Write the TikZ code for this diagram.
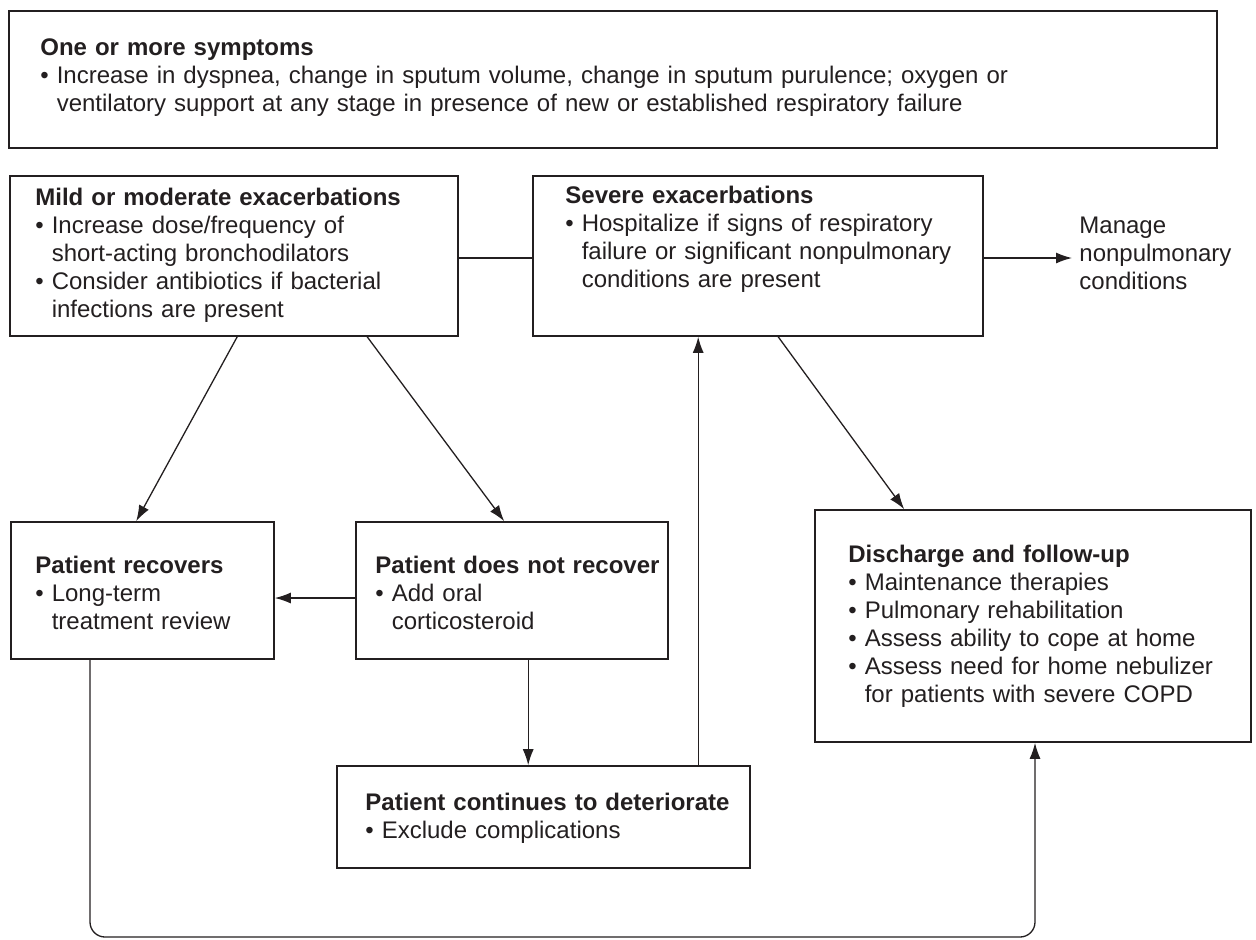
\documentclass[tikz,border=0pt]{standalone}
\usepackage{fontspec}
\setmainfont{Liberation Sans}
\usetikzlibrary{arrows.meta,fit,calc}
\definecolor{ink}{HTML}{231F20}
\setlength{\parindent}{0pt}
\newlength{\itmw}
\newcommand{\itm}[1]{\par\settowidth{\itmw}{\textbullet\ }\hangindent=\itmw\hangafter=1\noindent\textbullet\ #1\par}
\tikzset{
	box/.style={draw=ink, line width=0.8pt, inner sep=0pt},
	txt/.style={inner sep=0pt, anchor=north west, text=ink, font=\fontsize{12}{14}\selectfont},
	conn/.style={draw=ink, line width=0.65pt},
	arr/.style={conn, -{Latex[length=8pt,width=5.5pt]}}
}

\begin{document}
\begin{tikzpicture}[x=0.5pt, y=-0.5pt]
		%%%%% START %%%%%
		\useasboundingbox (0,0) rectangle (1256,939);
		
		\node[box, fit={(9,11) (1217,148)}] (sympt) {};
		\node[txt, text width=585pt] (symptxt) at (40,38.5) {\textbf{One or more symptoms}
			\itm{Increase in dyspnea, change in sputum volume, change in sputum purulence; oxygen or\newline ventilatory support at any stage in presence of new or established respiratory failure}};
		
		\node[box, fit={(10,176) (458,336)}] (mild) {};
		\node[txt, text width=210pt] (mildtxt) at (35,187.5) {\textbf{Mild or moderate exacerbations}
			\itm{Increase dose/frequency of\newline short-acting bronchodilators}
			\itm{Consider antibiotics if bacterial\newline infections are present}};
		
		\node[box, fit={(533,176) (983,336)}] (severe) {};
		\node[txt, text width=205pt] (severetxt) at (565,186) {\textbf{Severe exacerbations}
			\itm{Hospitalize if signs of respiratory\newline failure or significant nonpulmonary\newline conditions are present}};
		
		\node[txt, text width=88pt] (manage) at (1079,217) {Manage\\nonpulmonary\\conditions};
		
		\node[box, fit={(11,522) (274,659)}] (recov) {};
		\node[txt, text width=117.5pt] (recovtxt) at (35,555.5) {\textbf{Patient recovers}
			\itm{Long-term\newline treatment review}};
		
		\node[box, fit={(356,522) (668,659)}] (notrec) {};
		\node[txt, text width=145pt] (notrectxt) at (375,555.5) {\textbf{Patient does not recover}
			\itm{Add oral\newline corticosteroid}};
		
		\node[box, fit={(337,766) (750,868)}] (deter) {};
		\node[txt, text width=190pt] (detertxt) at (365,792.5) {\textbf{Patient continues to deteriorate}
			\itm{Exclude complications}};
		
		\node[box, fit={(815,510) (1251,742)}] (disch) {};
		\node[txt, text width=200pt] (dischtxt) at (848,544.5) {\textbf{Discharge and follow-up}
			\itm{Maintenance therapies}
			\itm{Pulmonary rehabilitation}
			\itm{Assess ability to cope at home}
			\itm{Assess need for home nebulizer\newline for patients with severe COPD}};
		
		\coordinate (loopL) at (90,937);
		\coordinate (loopR) at (1035,937);
		
		% connectors
		\draw[conn] ([yshift=-1pt]mild.east) -- ([yshift=-1pt]mild.east -| severe.west);
		\draw[arr, shorten >=3.5pt] ([yshift=-1pt]severe.east) -- ([yshift=-1pt]severe.east -| manage.west);
		\draw[arr] ([xshift=114pt]mild.south west) -- ([xshift=63pt]recov.north west);
		\draw[arr] ([xshift=179pt]mild.south west) -- ([xshift=74.5pt]notrec.north west);
		\draw[arr] ([xshift=123pt]severe.south west) -- ([xshift=45pt]disch.north west);
		\draw[arr] ([yshift=-3.75pt]notrec.west) -- ([yshift=-3.75pt]notrec.west -| recov.east);
		\draw[arr] ([xshift=86.5pt]notrec.south west) coordinate (nd) -- (nd |- deter.north);
		\draw[arr] ([xshift=181pt]deter.north west) coordinate (ds) -- (ds |- severe.south);
		\draw[arr, rounded corners=7.5pt] (recov.south -| loopL) -- (loopL) -- (loopR) -- (disch.south -| loopR);
		
		%%%%% END %%%%%
	\end{tikzpicture}
\end{document}
